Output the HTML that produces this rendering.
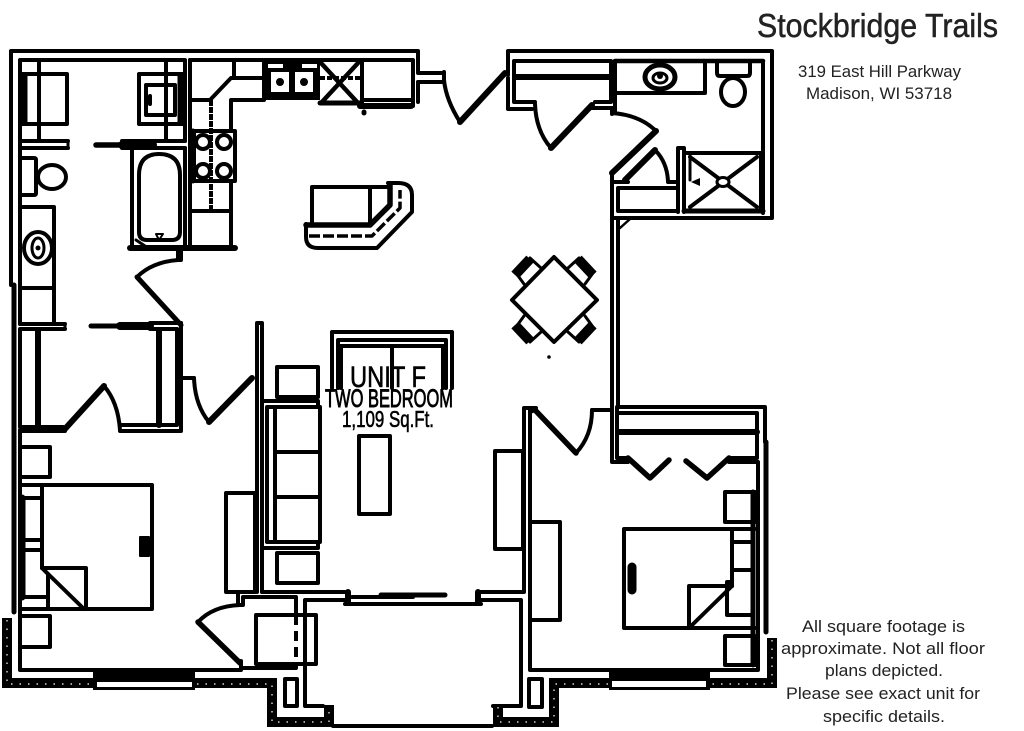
<!DOCTYPE html>
<html><head><meta charset="utf-8"><style>
html,body{margin:0;padding:0;background:#fff;width:1024px;height:731px;overflow:hidden}
svg{display:block}
.a path,.a rect,.a ellipse,.a circle,.a line{fill:none;stroke:#000;stroke-linejoin:round;stroke-linecap:round}
.a path.d{stroke-linecap:butt}
.t{font-family:"Liberation Sans",sans-serif;fill:#222}
.h{font-family:"Liberation Sans",sans-serif;fill:#000;stroke:#000}
</style></head><body>
<svg width="1024" height="731" viewBox="0 0 1024 731" xmlns="http://www.w3.org/2000/svg">
<g class="a" stroke-width="4">
<!-- exterior shell -->
<path d="M11,285V51H418V73H444M418,82V102"/>
<path d="M418,82H442"/>
<path d="M508,75V51H772V218H612"/>
<path d="M508,78V109H532M592,108H612"/>
<path d="M612,108V114"/>
<path d="M14,285V612" stroke-width="5"/>
<!-- kitchen top & left -->
<path d="M190,60H413V106"/>
<path d="M190,60V247"/>
<path d="M360,106H411" stroke-width="6"/>
<path d="M190,100H210L231,78H262M231,100H264M231,100V131M234,60V78"/>
<path class="d" d="M211,100V210" stroke-dasharray="6 1"/>
<rect x="194" y="131" width="41" height="50"/>
<circle cx="203" cy="142" r="7" stroke-width="4"/><circle cx="224" cy="142" r="7" stroke-width="4"/>
<circle cx="203" cy="171" r="7" stroke-width="4"/><circle cx="224" cy="171" r="7" stroke-width="4"/>
<path d="M193,131V181" stroke-width="5"/>
<path d="M231,181V247M190,211H231"/>
<path d="M130,248H235" stroke-width="6"/>
<!-- range -->
<path d="M321,63L358,103M358,63L321,103" stroke-width="4.5"/>
<path class="d" d="M320,78H360" stroke-dasharray="5 2"/>
<path d="M320,103H360" stroke-width="5"/>
<path d="M362,60V104M362,100H411"/>
<path d="M364,112V113" stroke-width="5"/>
<!-- main door -->
<path d="M444,72V80Q446,100 460,122"/>
<path d="M460,122L505,73" stroke-width="6"/>
<!-- closet top right -->
<path d="M514,102V61H611V102H595M514,102H535"/>
<path d="M515,77H610" stroke-width="6"/>
<path d="M535,104Q536,131 551,148"/>
<path d="M551,148L592,105" stroke-width="6"/>
<!-- master bath -->
<path d="M615,61V113"/>
<path d="M615,61H763" stroke-width="4.5"/>
<path d="M763,61V213"/>
<path d="M617,93H705V63"/>
<ellipse cx="660" cy="77" rx="15" ry="12" stroke-width="5"/>
<ellipse cx="660" cy="78" rx="7" ry="5" stroke-width="3"/>
<path d="M717,63V73Q717,76 720,76H747Q750,76 750,73V63"/>
<ellipse cx="733" cy="92" rx="12" ry="14"/>
<path d="M612,113Q640,115 656,131"/>
<path d="M656,131L612,173" stroke-width="6"/>
<path d="M625,180L655,150" stroke-width="6"/>
<path d="M655,150Q667,162 668,181"/>
<path d="M612,182H628M668,182H678" stroke-width="4"/>
<rect x="618" y="188" width="60" height="23"/>
<path d="M678,148H684V212M678,148V212"/>
<path d="M684,153H763" />
<path d="M684,211H763" stroke-width="5"/>
<path d="M761,155V211" stroke-width="4"/>
<path d="M690,157L757,207M757,157L690,207"/>
<path d="M690,155V180" stroke-width="3"/>
<path d="M620,228L630,219M618,220V232" stroke-width="2.5"/>
<!-- living right wall -->
<path d="M612,173V407M618,220V407"/>
<!-- table -->
<path d="M554,257L597,300L554,342L512,300Z"/>
<path class="d" d="M515,275L530,259M578,259L593,275M515,325L530,341M578,341L593,325" stroke-width="10"/>
<path d="M530,258L541,268M516,273L524,284M579,258L568,268M593,273L585,284M516,327L524,316M530,342L541,332M593,327L585,316M579,342L568,332" stroke-width="3"/>
<circle cx="549" cy="357" r="0.8" stroke-width="2"/>
<!-- island -->
<path d="M312,223V187H388"/><path d="M370,187V223"/>
<path d="M306,225H370L390,205V184" stroke-width="5.5"/>
<path d="M306,224V237Q306,248 318,248H377L412,212V195Q412,183 398,183H388" stroke-width="4"/>
<path class="d" d="M309,236H372L400,208V190" stroke-width="3.5" stroke-dasharray="11 3"/>
<!-- left bath top -->
<path d="M20,324V60H185V141"/>
<path d="M20,141H68M20,148H68M122,141H185M122,148H185"/>
<path d="M68,141V148" stroke-width="3"/>
<path d="M96,145H122" stroke-width="5.5"/>
<path d="M122,145H153" stroke-width="8"/>
<rect x="20" y="74" width="47" height="50"/>
<path d="M24,76V122" stroke-width="7"/>
<path d="M39,60V141"/>
<rect x="139" y="74" width="46" height="50"/>
<path d="M181,76V122" stroke-width="7"/>
<path d="M166,60V141"/>
<rect x="146" y="85" width="29" height="30"/>
<path d="M150,96V104" stroke-width="4"/>
<!-- tub -->
<path d="M132,148V247M185,148V247"/>
<path d="M139,175Q139,154 159,154Q180,154 180,175V232Q180,240 172,240H147Q139,240 139,232Z"/>
<path d="M156,234H163L159,240Z" stroke-width="2"/>
<path d="M136,240L145,246" stroke-width="3"/>
<!-- toilet/vanity -->
<path d="M22,158H34Q36,158 36,160V193Q36,195 34,195H22"/>
<ellipse cx="52" cy="177" rx="14" ry="12"/>
<path d="M22,207H54V324M22,288H54"/>
<ellipse cx="38" cy="248" rx="14" ry="16" stroke-width="4"/>
<ellipse cx="38" cy="248" rx="6" ry="10" stroke-width="3"/>
<!-- bath door -->
<path d="M178,250V260H181V250M178,260Q152,262 137,277"/>
<path d="M137,277L181,325" stroke-width="5"/>
<!-- closet -->
<path d="M20,324H65M20,329H65" />
<path d="M91,326H120" stroke-width="5"/>
<path d="M120,326H150" stroke-width="8"/>
<path d="M150,323H181M150,329H177"/>
<path d="M65,324V329" stroke-width="3"/>
<path d="M181,323V431H120M177,329V425H122"/>
<path d="M20,330V427H63M20,431H65"/>
<path d="M38,330V425" stroke-width="6"/>
<path d="M159,330V425" stroke-width="6"/>
<path d="M64,430L104,386" stroke-width="6"/>
<path d="M104,386Q118,402 120,430"/>
<!-- hall door -->
<path d="M181,378H194"/>
<path d="M194,378Q195,405 209,422"/>
<path d="M209,422L252,378" stroke-width="6"/>
<!-- living left wall -->
<path d="M257,323V592M262,323V592M257,323H262"/>
<path d="M262,592H345M478,592H524V408H536"/>
<!-- bedroom 1 -->
<path d="M20,430V670H240"/>
<rect x="20" y="447" width="30" height="30"/>
<rect x="20" y="616" width="30" height="31"/>
<path d="M20,485H152V609H20M42,485V568"/>
<path d="M24,498H42V540H24M24,550H42V568L48,574V597H24"/>
<path d="M22,498V597" stroke-width="7"/>
<path d="M42,568H86V609M42,568L84,609M48,574V609"/>
<rect x="140" y="537" width="9" height="19" stroke-width="2" style="fill:#000"/>
<rect x="226" y="493" width="29" height="99"/>
<!-- door to hvac -->
<path d="M238,592V605H243V597H296V615M243,668H296V664"/>
<path d="M240,605Q213,606 198,622"/>
<path d="M198,622L240,663" stroke-width="5.5"/>
<path d="M241,661V670" stroke-width="4"/>
<rect x="256" y="615" width="60" height="49"/>
<path class="d" d="M296,615V664" stroke-dasharray="10 6"/>
<!-- balcony -->
<path d="M345,604H481M305,706V600H345M481,600H521V706H493M305,706H323"/>
<path d="M348,592V603" stroke-width="6"/>
<path d="M478,592V603" stroke-width="6"/>
<path d="M352,597H413"/><path d="M381,595H445" stroke-width="5"/>
<rect x="285" y="679" width="12" height="27"/>
<rect x="529" y="679" width="13" height="28"/>
<path d="M333,726H492"/>
<!-- window in living -->
<path d="M332,388V332H452V388"/>
<path d="M338,388V340H446V388M338,346H446M392,346V388M341,346V388M443,346V388"/>
<!-- sofa -->
<rect x="267" y="407" width="53" height="135"/>
<path d="M275,407V542M275,452H320M275,497H320"/>
<path d="M262,401H318V407M262,548H318V542"/>
<rect x="277" y="367" width="41" height="30"/>
<rect x="277" y="553" width="41" height="30"/>
<rect x="359" y="436" width="31" height="78"/>
<rect x="495" y="451" width="28" height="98"/>
<!-- bedroom 2 -->
<path d="M530,410V670H758V462H729"/>
<path d="M530,412L535,410"/>
<path d="M535,410L576,453" stroke-width="5.5"/>
<path d="M576,453Q592,436 592,410"/>
<path d="M592,410H612" stroke-width="4"/>
<path d="M612,405V462H628M617,408V458H628"/>
<path d="M617,407H765V442M617,413H757V458H729"/>
<path d="M618,432H757" stroke-width="6"/>
<path d="M628,458L650,478L669,460" stroke-width="5.5"/>
<path d="M686,461L707,478L729,458" stroke-width="5.5"/>
<path d="M766,442V632" stroke-width="5"/>
<rect x="530" y="522" width="30" height="98"/>
<rect x="725" y="492" width="30" height="30"/>
<rect x="725" y="636" width="30" height="29"/>
<path d="M755,529H624V628H755M732,529V586"/>
<path d="M732,542H752M732,570H752M732,582H727V615H752"/>
<path d="M753,492V665" stroke-width="5"/>
<path d="M689,628V586H732M689,628L732,586"/>
<path d="M632,567V590" stroke-width="9"/>
</g>

<!-- sink block -->
<rect x="262" y="60" width="58" height="40" fill="#000"/>
<rect x="271" y="72" width="18" height="20" fill="#fff"/><rect x="295" y="72" width="18" height="20" fill="#fff"/>
<rect x="268" y="64" width="15" height="4" fill="#fff"/><rect x="302" y="64" width="15" height="4" fill="#fff"/>
<circle cx="280" cy="82" r="4" fill="#000"/><circle cx="304" cy="82" r="4" fill="#000"/>
<ellipse cx="723" cy="182" rx="6" ry="4.5" fill="#fff" stroke="#000" stroke-width="3"/>
<path d="M691,182L700,178V186Z" fill="#000"/>
<ellipse cx="660" cy="76" rx="3" ry="3" fill="#000"/>
<circle cx="38" cy="248" r="2.5" fill="#000"/>

<!-- exterior thick walls -->
<g fill="none" stroke="#000" stroke-width="10" stroke-linejoin="miter">
<path d="M7,618V683H95M195,683H272V722H329V705"/>
<path d="M772,638V683H554V722H498V705"/>
</g>
<g fill="none" stroke="#fff" stroke-width="1.2" stroke-dasharray="1.5 7">
<path d="M7,620V684H93M197,684H272V722H329V707"/>
<path d="M772,640V684H710M608,684H554V722H498V707"/>
</g>
<!-- windows -->
<rect x="93" y="669" width="102" height="21" fill="#000"/><rect x="97" y="682" width="95" height="5" fill="#fff"/>
<rect x="609" y="670" width="101" height="20" fill="#000"/><rect x="612" y="681" width="94" height="6" fill="#fff"/>

<!-- unit labels -->
<text class="h" x="350" y="387" font-size="30" stroke-width=".6" textLength="76" lengthAdjust="spacingAndGlyphs">UNIT F</text>
<text class="h" x="325" y="407" font-size="25" stroke-width=".9" textLength="128" lengthAdjust="spacingAndGlyphs">TWO BEDROOM</text>
<text class="h" x="342" y="427" font-size="23" stroke-width=".6" textLength="92" lengthAdjust="spacingAndGlyphs">1,109 Sq.Ft.</text>

<!-- captions -->
<text class="t" x="757" y="37" font-size="33" stroke="#222" stroke-width=".5" textLength="241" lengthAdjust="spacingAndGlyphs">Stockbridge Trails</text>
<text class="t" x="798" y="77" font-size="17" textLength="163" lengthAdjust="spacingAndGlyphs">319 East Hill Parkway</text>
<text class="t" x="806" y="99" font-size="17" textLength="146" lengthAdjust="spacingAndGlyphs">Madison, WI 53718</text>
<text class="t" x="802" y="632" font-size="17" textLength="163" lengthAdjust="spacingAndGlyphs">All square footage is</text>
<text class="t" x="781" y="654" font-size="17" textLength="204" lengthAdjust="spacingAndGlyphs">approximate. Not all floor</text>
<text class="t" x="825" y="676" font-size="17" textLength="118" lengthAdjust="spacingAndGlyphs">plans depicted.</text>
<text class="t" x="786" y="699" font-size="17" textLength="194" lengthAdjust="spacingAndGlyphs">Please see exact unit for</text>
<text class="t" x="823" y="722" font-size="17" textLength="122" lengthAdjust="spacingAndGlyphs">specific details.</text>
</svg>
</body></html>
